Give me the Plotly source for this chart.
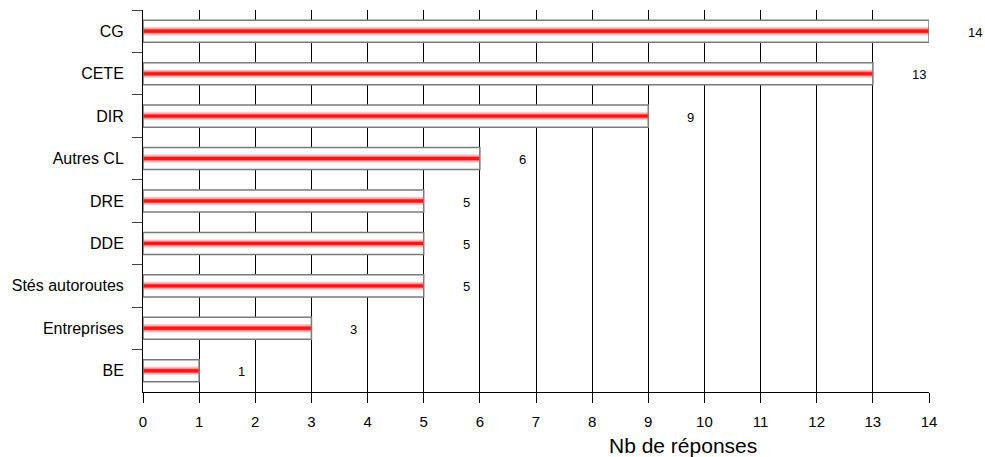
import plotly.graph_objects as go

categories = ["CG", "CETE", "DIR", "Autres CL", "DRE", "DDE", "Stés autoroutes", "Entreprises", "BE"]
values = [14, 13, 9, 6, 5, 5, 5, 3, 1]
x_ticks = list(range(0, 15))

FONT = "Arial, Liberation Sans, sans-serif"

fig = go.Figure()

# white base of bar
fig.add_trace(go.Bar(y=categories, x=values, orientation="h", width=0.52,
                     marker=dict(color="white", line=dict(width=0)), hoverinfo="skip"))
# gradient stripes
for w, c in [(0.20, "#ffd2d2"), (0.15, "#ffa8a8"), (0.10, "#ff6060"), (0.07, "#ff1414")]:
    fig.add_trace(go.Bar(y=categories, x=values, orientation="h", width=w,
                         marker=dict(color=c, line=dict(width=0)), hoverinfo="skip"))
# outline on top
fig.add_trace(go.Bar(y=categories, x=values, orientation="h", width=0.52,
                     marker=dict(color="rgba(0,0,0,0)", line=dict(width=1.5, color="#7a7a7a")),
                     hoverinfo="skip"))

for cat, v in zip(categories, values):
    fig.add_annotation(x=v, y=cat, text=str(v), showarrow=False, xanchor="left", xshift=37, yshift=-1,
                       font=dict(family=FONT, size=13, color="black"))

fig.add_annotation(x=0.687, y=-0.139, xref="paper", yref="paper", text="Nb de réponses",
                   showarrow=False, xanchor="center", yanchor="middle",
                   font=dict(family=FONT, size=21, color="black"))

fig.update_layout(
    width=985, height=457, barmode="overlay", showlegend=False,
    margin=dict(l=143, r=56, t=10, b=65, autoexpand=False),
    plot_bgcolor="white", paper_bgcolor="white",
    font=dict(family=FONT, color="black"),
    xaxis=dict(range=[0, 14], tickvals=x_ticks, showgrid=True, gridcolor="black", gridwidth=1,
               ticks="outside", ticklen=10, tickcolor="black", showline=True, linecolor="black",
               linewidth=1, zeroline=False, tickfont=dict(size=15, family=FONT),
               ticklabelstandoff=6, automargin=False),
    yaxis=dict(range=[8.5, -0.5], categoryorder="array", categoryarray=categories,
               ticks="outside", tickson="boundaries", ticklen=10, tickcolor="#444",
               showline=True, linecolor="black", linewidth=1, showgrid=False,
               tickfont=dict(size=16, family=FONT), ticklabelstandoff=15, automargin=False),
)

fig.write_html("out.html", config={"displayModeBar": False},
               post_script="document.body.style.margin='0';document.body.style.overflow='hidden';")
